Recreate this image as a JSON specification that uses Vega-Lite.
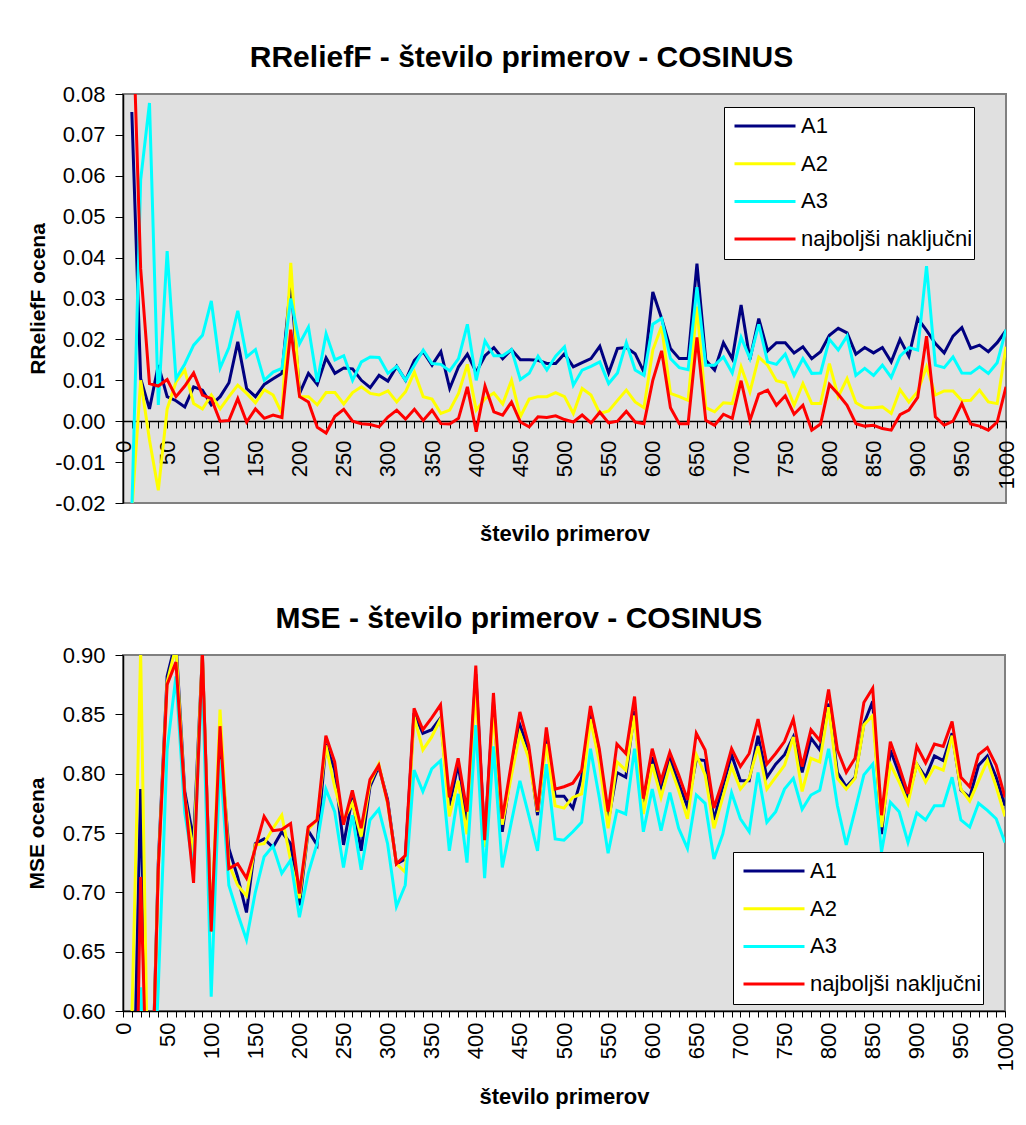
{
"$schema": "https://vega.github.io/schema/vega-lite/v6.json",
"background": "white",
"padding": {"left": 25, "top": 42, "right": 15, "bottom": 5},
"columns": 1,
"align": "none",
"spacing": 57,
"resolve": {"scale": {"color": "independent"}, "legend": {"color": "independent"}},
"config": {
  "font": "Liberation Sans",
  "view": {"fill": "#e0e0e0", "stroke": "#808080", "strokeWidth": 2},
  "axis": {"labelFont": "Liberation Sans", "labelFontSize": 22, "labelColor": "black", "titleFont": "Liberation Sans", "titleFontSize": 21, "titleFontWeight": "bold", "titleColor": "black", "domainColor": "black", "domainWidth": 1.5, "tickColor": "black", "grid": false, "labelOverlap": false, "labelFlush": false},
  "axisX": {"titleFontSize": 22},
  "title": {"fontSize": 30, "font": "Liberation Sans", "fontWeight": "bold", "color": "black"},
  "legend": {"title": null, "orient": "none", "symbolType": "stroke", "symbolSize": 3721, "symbolStrokeWidth": 3, "clipHeight": 36, "rowPadding": 1.7, "padding": 1, "symbolOffset": 8, "labelOffset": 4, "labelLimit": 400, "labelFont": "Liberation Sans", "labelFontSize": 22, "labelColor": "black", "fillColor": "white", "strokeColor": "black"}
},
"datasets": {
"top": [
{"x":10,"A1":0.0756,"A2":-0.022,"A3":-0.022,"N":0.107},
{"x":20,"A1":0.0104,"A2":0.010,"A3":0.059,"N":0.0373},
{"x":30,"A1":0.003,"A2":-0.0046,"A3":0.0778,"N":0.0092},
{"x":40,"A1":0.0137,"A2":-0.0169,"A3":0.004,"N":0.0086},
{"x":50,"A1":0.006,"A2":0.003,"A3":0.0416,"N":0.0102},
{"x":60,"A1":0.005,"A2":0.0096,"A3":0.0104,"N":0.006},
{"x":70,"A1":0.0035,"A2":0.0125,"A3":0.014,"N":0.0086},
{"x":80,"A1":0.0084,"A2":0.0043,"A3":0.0186,"N":0.0118},
{"x":90,"A1":0.0076,"A2":0.003,"A3":0.021,"N":0.0064},
{"x":100,"A1":0.004,"A2":0.0064,"A3":0.0294,"N":0.0055},
{"x":110,"A1":0.006,"A2":0.003,"A3":0.013,"N":0.0},
{"x":120,"A1":0.0094,"A2":0.006,"A3":0.018,"N":0.0002},
{"x":130,"A1":0.0194,"A2":0.0088,"A3":0.027,"N":0.0055},
{"x":140,"A1":0.008,"A2":0.0068,"A3":0.0157,"N":-0.0002},
{"x":150,"A1":0.006,"A2":0.0045,"A3":0.0175,"N":0.003},
{"x":160,"A1":0.009,"A2":0.0077,"A3":0.010,"N":0.0007},
{"x":170,"A1":0.0104,"A2":0.0064,"A3":0.012,"N":0.0015},
{"x":180,"A1":0.0117,"A2":0.0019,"A3":0.0129,"N":0.0009},
{"x":190,"A1":0.034,"A2":0.0387,"A3":0.030,"N":0.0224},
{"x":200,"A1":0.0068,"A2":0.006,"A3":0.019,"N":0.006},
{"x":210,"A1":0.0117,"A2":0.006,"A3":0.023,"N":0.0047},
{"x":220,"A1":0.009,"A2":0.004,"A3":0.0096,"N":-0.0015},
{"x":230,"A1":0.0155,"A2":0.007,"A3":0.0214,"N":-0.0029},
{"x":240,"A1":0.0117,"A2":0.007,"A3":0.015,"N":0.0012},
{"x":250,"A1":0.013,"A2":0.0042,"A3":0.016,"N":0.0029},
{"x":260,"A1":0.0128,"A2":0.007,"A3":0.010,"N":0.0},
{"x":270,"A1":0.010,"A2":0.0084,"A3":0.0145,"N":-0.0006},
{"x":280,"A1":0.0082,"A2":0.0068,"A3":0.0157,"N":-0.0008},
{"x":290,"A1":0.0112,"A2":0.0064,"A3":0.0156,"N":-0.0014},
{"x":300,"A1":0.0098,"A2":0.0074,"A3":0.0117,"N":0.001},
{"x":310,"A1":0.0134,"A2":0.0047,"A3":0.0134,"N":0.0027},
{"x":320,"A1":0.010,"A2":0.0072,"A3":0.010,"N":0.0005},
{"x":330,"A1":0.0149,"A2":0.012,"A3":0.0137,"N":0.0029},
{"x":340,"A1":0.017,"A2":0.006,"A3":0.0174,"N":0.0002},
{"x":350,"A1":0.0137,"A2":0.0054,"A3":0.0141,"N":0.0027},
{"x":360,"A1":0.017,"A2":0.0019,"A3":0.0139,"N":-0.0006},
{"x":370,"A1":0.008,"A2":0.0027,"A3":0.0123,"N":-0.0007},
{"x":380,"A1":0.0133,"A2":0.0068,"A3":0.0153,"N":0.0007},
{"x":390,"A1":0.0164,"A2":0.0139,"A3":0.0237,"N":0.0084},
{"x":400,"A1":0.012,"A2":0.0027,"A3":0.010,"N":-0.0026},
{"x":410,"A1":0.016,"A2":0.0055,"A3":0.0196,"N":0.0086},
{"x":420,"A1":0.018,"A2":0.0069,"A3":0.016,"N":0.0023},
{"x":430,"A1":0.0153,"A2":0.0042,"A3":0.016,"N":0.0015},
{"x":440,"A1":0.0175,"A2":0.010,"A3":0.0175,"N":0.0047},
{"x":450,"A1":0.015,"A2":0.0011,"A3":0.0102,"N":-0.0002},
{"x":460,"A1":0.015,"A2":0.0054,"A3":0.0117,"N":-0.0014},
{"x":470,"A1":0.0149,"A2":0.006,"A3":0.0159,"N":0.0011},
{"x":480,"A1":0.0141,"A2":0.006,"A3":0.0125,"N":0.0009},
{"x":490,"A1":0.0141,"A2":0.007,"A3":0.0159,"N":0.0013},
{"x":500,"A1":0.0165,"A2":0.006,"A3":0.0182,"N":0.0004},
{"x":510,"A1":0.0133,"A2":0.0019,"A3":0.0088,"N":-0.0002},
{"x":520,"A1":0.0143,"A2":0.008,"A3":0.0125,"N":0.0015},
{"x":530,"A1":0.0153,"A2":0.0064,"A3":0.0134,"N":-0.0004},
{"x":540,"A1":0.0183,"A2":0.0019,"A3":0.0145,"N":0.0022},
{"x":550,"A1":0.0118,"A2":0.0025,"A3":0.0092,"N":-0.0004},
{"x":560,"A1":0.0178,"A2":0.0051,"A3":0.0118,"N":0.0},
{"x":570,"A1":0.018,"A2":0.0076,"A3":0.0192,"N":0.0024},
{"x":580,"A1":0.0165,"A2":0.0047,"A3":0.0125,"N":-0.0002},
{"x":590,"A1":0.012,"A2":0.0033,"A3":0.0112,"N":-0.0006},
{"x":600,"A1":0.0316,"A2":0.0174,"A3":0.0237,"N":0.010},
{"x":610,"A1":0.0251,"A2":0.0232,"A3":0.0251,"N":0.0172},
{"x":620,"A1":0.0178,"A2":0.0068,"A3":0.0153,"N":0.0033},
{"x":630,"A1":0.0153,"A2":0.006,"A3":0.0131,"N":-0.0006},
{"x":640,"A1":0.0153,"A2":0.0051,"A3":0.0126,"N":-0.0006},
{"x":650,"A1":0.0385,"A2":0.028,"A3":0.0328,"N":0.0205},
{"x":660,"A1":0.0149,"A2":0.0033,"A3":0.0137,"N":0.0002},
{"x":670,"A1":0.0125,"A2":0.0023,"A3":0.0137,"N":-0.001},
{"x":680,"A1":0.0192,"A2":0.0045,"A3":0.0157,"N":0.0017},
{"x":690,"A1":0.0153,"A2":0.0043,"A3":0.0118,"N":0.0007},
{"x":700,"A1":0.0284,"A2":0.0133,"A3":0.0205,"N":0.0099},
{"x":710,"A1":0.0151,"A2":0.0072,"A3":0.0153,"N":0.0002},
{"x":720,"A1":0.0251,"A2":0.0157,"A3":0.0237,"N":0.0066},
{"x":730,"A1":0.0172,"A2":0.0137,"A3":0.0145,"N":0.0076},
{"x":740,"A1":0.0192,"A2":0.0099,"A3":0.0139,"N":0.0039},
{"x":750,"A1":0.0192,"A2":0.0094,"A3":0.0164,"N":0.0062},
{"x":760,"A1":0.0167,"A2":0.0039,"A3":0.0112,"N":0.0017},
{"x":770,"A1":0.0182,"A2":0.0092,"A3":0.0153,"N":0.0039},
{"x":780,"A1":0.0153,"A2":0.0043,"A3":0.0117,"N":-0.0022},
{"x":790,"A1":0.017,"A2":0.0043,"A3":0.0118,"N":-0.0007},
{"x":800,"A1":0.021,"A2":0.0141,"A3":0.020,"N":0.009},
{"x":810,"A1":0.0227,"A2":0.006,"A3":0.0174,"N":0.0066},
{"x":820,"A1":0.0216,"A2":0.0104,"A3":0.0208,"N":0.0039},
{"x":830,"A1":0.0164,"A2":0.0045,"A3":0.0112,"N":-0.0006},
{"x":840,"A1":0.018,"A2":0.0033,"A3":0.0129,"N":-0.0012},
{"x":850,"A1":0.0167,"A2":0.0033,"A3":0.0112,"N":-0.001},
{"x":860,"A1":0.018,"A2":0.0035,"A3":0.0137,"N":-0.0018},
{"x":870,"A1":0.0145,"A2":0.0019,"A3":0.0107,"N":-0.0022},
{"x":880,"A1":0.020,"A2":0.0077,"A3":0.0159,"N":0.0016},
{"x":890,"A1":0.0159,"A2":0.0047,"A3":0.018,"N":0.0027},
{"x":900,"A1":0.0251,"A2":0.0072,"A3":0.0174,"N":0.0058},
{"x":910,"A1":0.0222,"A2":0.0133,"A3":0.0379,"N":0.0208},
{"x":920,"A1":0.019,"A2":0.0064,"A3":0.0137,"N":0.0011},
{"x":930,"A1":0.0167,"A2":0.0074,"A3":0.0131,"N":-0.001},
{"x":940,"A1":0.0208,"A2":0.0074,"A3":0.0157,"N":0.0},
{"x":950,"A1":0.0229,"A2":0.005,"A3":0.0118,"N":0.0043},
{"x":960,"A1":0.0178,"A2":0.0051,"A3":0.0117,"N":-0.0007},
{"x":970,"A1":0.0186,"A2":0.0076,"A3":0.0133,"N":-0.0012},
{"x":980,"A1":0.017,"A2":0.0047,"A3":0.0117,"N":-0.0022},
{"x":990,"A1":0.0192,"A2":0.0043,"A3":0.0143,"N":-0.0002},
{"x":1000,"A1":0.0222,"A2":0.0182,"A3":0.0224,"N":0.0084}
],
"bot": [
{"x":10,"A1":0.45,"A2":0.59,"A3":0.45,"N":0.30},
{"x":20,"A1":0.787,"A2":0.903,"A3":0.62,"N":0.713},
{"x":30,"A1":0.45,"A2":0.45,"A3":0.45,"N":0.45},
{"x":40,"A1":0.725,"A2":0.72,"A3":0.62,"N":0.719},
{"x":50,"A1":0.882,"A2":0.877,"A3":0.820,"N":0.875},
{"x":60,"A1":0.912,"A2":0.907,"A3":0.882,"N":0.894},
{"x":70,"A1":0.785,"A2":0.78,"A3":0.767,"N":0.782},
{"x":80,"A1":0.744,"A2":0.733,"A3":0.72,"N":0.708},
{"x":90,"A1":0.90,"A2":0.90,"A3":0.885,"N":0.903},
{"x":100,"A1":0.667,"A2":0.667,"A3":0.612,"N":0.667},
{"x":110,"A1":0.828,"A2":0.854,"A3":0.812,"N":0.840},
{"x":120,"A1":0.737,"A2":0.724,"A3":0.706,"N":0.720},
{"x":130,"A1":0.713,"A2":0.706,"A3":0.682,"N":0.724},
{"x":140,"A1":0.683,"A2":0.697,"A3":0.660,"N":0.712},
{"x":150,"A1":0.741,"A2":0.740,"A3":0.700,"N":0.737},
{"x":160,"A1":0.745,"A2":0.741,"A3":0.730,"N":0.764},
{"x":170,"A1":0.738,"A2":0.754,"A3":0.739,"N":0.752},
{"x":180,"A1":0.751,"A2":0.765,"A3":0.716,"N":0.753},
{"x":190,"A1":0.741,"A2":0.727,"A3":0.727,"N":0.758},
{"x":200,"A1":0.689,"A2":0.695,"A3":0.679,"N":0.699},
{"x":210,"A1":0.752,"A2":0.753,"A3":0.716,"N":0.755},
{"x":220,"A1":0.740,"A2":0.761,"A3":0.741,"N":0.761},
{"x":230,"A1":0.825,"A2":0.824,"A3":0.787,"N":0.832},
{"x":240,"A1":0.803,"A2":0.789,"A3":0.768,"N":0.810},
{"x":250,"A1":0.740,"A2":0.761,"A3":0.721,"N":0.757},
{"x":260,"A1":0.780,"A2":0.775,"A3":0.765,"N":0.786},
{"x":270,"A1":0.735,"A2":0.747,"A3":0.719,"N":0.754},
{"x":280,"A1":0.789,"A2":0.792,"A3":0.761,"N":0.795},
{"x":290,"A1":0.806,"A2":0.808,"A3":0.770,"N":0.807},
{"x":300,"A1":0.778,"A2":0.775,"A3":0.741,"N":0.776},
{"x":310,"A1":0.724,"A2":0.724,"A3":0.688,"N":0.724},
{"x":320,"A1":0.728,"A2":0.717,"A3":0.706,"N":0.731},
{"x":330,"A1":0.851,"A2":0.848,"A3":0.803,"N":0.855},
{"x":340,"A1":0.834,"A2":0.820,"A3":0.785,"N":0.837},
{"x":350,"A1":0.837,"A2":0.831,"A3":0.804,"N":0.847},
{"x":360,"A1":0.847,"A2":0.846,"A3":0.811,"N":0.858},
{"x":370,"A1":0.773,"A2":0.764,"A3":0.735,"N":0.780},
{"x":380,"A1":0.808,"A2":0.794,"A3":0.783,"N":0.813},
{"x":390,"A1":0.758,"A2":0.749,"A3":0.725,"N":0.768},
{"x":400,"A1":0.884,"A2":0.872,"A3":0.841,"N":0.891},
{"x":410,"A1":0.744,"A2":0.738,"A3":0.712,"N":0.744},
{"x":420,"A1":0.860,"A2":0.853,"A3":0.823,"N":0.868},
{"x":430,"A1":0.751,"A2":0.757,"A3":0.721,"N":0.762},
{"x":440,"A1":0.803,"A2":0.797,"A3":0.758,"N":0.807},
{"x":450,"A1":0.841,"A2":0.834,"A3":0.794,"N":0.852},
{"x":460,"A1":0.820,"A2":0.813,"A3":0.765,"N":0.824},
{"x":470,"A1":0.765,"A2":0.768,"A3":0.735,"N":0.769},
{"x":480,"A1":0.832,"A2":0.825,"A3":0.808,"N":0.839},
{"x":490,"A1":0.781,"A2":0.773,"A3":0.745,"N":0.787},
{"x":500,"A1":0.781,"A2":0.771,"A3":0.744,"N":0.789},
{"x":510,"A1":0.771,"A2":0.780,"A3":0.751,"N":0.792},
{"x":520,"A1":0.797,"A2":0.783,"A3":0.759,"N":0.803},
{"x":530,"A1":0.852,"A2":0.846,"A3":0.821,"N":0.857},
{"x":540,"A1":0.817,"A2":0.810,"A3":0.780,"N":0.821},
{"x":550,"A1":0.759,"A2":0.754,"A3":0.733,"N":0.768},
{"x":560,"A1":0.801,"A2":0.810,"A3":0.769,"N":0.825},
{"x":570,"A1":0.797,"A2":0.803,"A3":0.766,"N":0.817},
{"x":580,"A1":0.853,"A2":0.849,"A3":0.821,"N":0.865},
{"x":590,"A1":0.775,"A2":0.766,"A3":0.751,"N":0.779},
{"x":600,"A1":0.814,"A2":0.808,"A3":0.787,"N":0.821},
{"x":610,"A1":0.789,"A2":0.780,"A3":0.752,"N":0.794},
{"x":620,"A1":0.813,"A2":0.807,"A3":0.784,"N":0.818},
{"x":630,"A1":0.792,"A2":0.786,"A3":0.754,"N":0.799},
{"x":640,"A1":0.772,"A2":0.762,"A3":0.737,"N":0.778},
{"x":650,"A1":0.812,"A2":0.816,"A3":0.782,"N":0.834},
{"x":660,"A1":0.811,"A2":0.799,"A3":0.775,"N":0.820},
{"x":670,"A1":0.761,"A2":0.754,"A3":0.728,"N":0.771},
{"x":680,"A1":0.789,"A2":0.780,"A3":0.749,"N":0.794},
{"x":690,"A1":0.816,"A2":0.806,"A3":0.784,"N":0.821},
{"x":700,"A1":0.794,"A2":0.787,"A3":0.762,"N":0.806},
{"x":710,"A1":0.794,"A2":0.796,"A3":0.751,"N":0.817},
{"x":720,"A1":0.832,"A2":0.823,"A3":0.801,"N":0.846},
{"x":730,"A1":0.797,"A2":0.787,"A3":0.759,"N":0.808},
{"x":740,"A1":0.808,"A2":0.797,"A3":0.768,"N":0.817},
{"x":750,"A1":0.816,"A2":0.807,"A3":0.787,"N":0.827},
{"x":760,"A1":0.831,"A2":0.831,"A3":0.796,"N":0.846},
{"x":770,"A1":0.801,"A2":0.785,"A3":0.770,"N":0.806},
{"x":780,"A1":0.830,"A2":0.813,"A3":0.782,"N":0.837},
{"x":790,"A1":0.820,"A2":0.810,"A3":0.786,"N":0.828},
{"x":800,"A1":0.859,"A2":0.856,"A3":0.821,"N":0.871},
{"x":810,"A1":0.801,"A2":0.796,"A3":0.773,"N":0.820},
{"x":820,"A1":0.789,"A2":0.787,"A3":0.740,"N":0.801},
{"x":830,"A1":0.797,"A2":0.796,"A3":0.769,"N":0.813},
{"x":840,"A1":0.842,"A2":0.841,"A3":0.799,"N":0.860},
{"x":850,"A1":0.861,"A2":0.849,"A3":0.808,"N":0.872},
{"x":860,"A1":0.749,"A2":0.755,"A3":0.734,"N":0.765},
{"x":870,"A1":0.820,"A2":0.808,"A3":0.776,"N":0.827},
{"x":880,"A1":0.800,"A2":0.793,"A3":0.768,"N":0.806},
{"x":890,"A1":0.779,"A2":0.775,"A3":0.742,"N":0.783},
{"x":900,"A1":0.808,"A2":0.808,"A3":0.767,"N":0.823},
{"x":910,"A1":0.797,"A2":0.793,"A3":0.761,"N":0.809},
{"x":920,"A1":0.815,"A2":0.806,"A3":0.773,"N":0.825},
{"x":930,"A1":0.811,"A2":0.803,"A3":0.773,"N":0.823},
{"x":940,"A1":0.834,"A2":0.832,"A3":0.797,"N":0.844},
{"x":950,"A1":0.786,"A2":0.787,"A3":0.761,"N":0.797},
{"x":960,"A1":0.780,"A2":0.777,"A3":0.755,"N":0.789},
{"x":970,"A1":0.807,"A2":0.794,"A3":0.775,"N":0.816},
{"x":980,"A1":0.815,"A2":0.811,"A3":0.769,"N":0.822},
{"x":990,"A1":0.797,"A2":0.789,"A3":0.762,"N":0.807},
{"x":1000,"A1":0.773,"A2":0.764,"A3":0.742,"N":0.780}
]
},
"concat": [
{
  "title": {"text": "RReliefF - število primerov - COSINUS", "offset": 10, "dx": -43},
  "width": 883, "height": 409,
  "data": {"name": "top"},
  "transform": [{"fold": ["A1", "A2", "A3", "N"], "as": ["s", "v"]}],
  "mark": {"type": "line", "clip": true, "strokeWidth": 3},
  "encoding": {
    "x": {"field": "x", "type": "quantitative", "scale": {"domain": [0, 1000], "nice": false},
      "axis": {"values": [0,10,20,30,40,50,60,70,80,90,100,110,120,130,140,150,160,170,180,190,200,210,220,230,240,250,260,270,280,290,300,310,320,330,340,350,360,370,380,390,400,410,420,430,440,450,460,470,480,490,500,510,520,530,540,550,560,570,580,590,600,610,620,630,640,650,660,670,680,690,700,710,720,730,740,750,760,770,780,790,800,810,820,830,840,850,860,870,880,890,900,910,920,930,940,950,960,970,980,990,1000],
        "format": "d", "labelExpr": "datum.value % 50 == 0 ? datum.label : ''", "labelAngle": 270, "offset": -82, "tickSize": 7, "labelPadding": 12, "title": "število primerov", "titlePadding": 35}},
    "y": {"field": "v", "type": "quantitative", "scale": {"domain": [-0.02, 0.08], "nice": false, "zero": false},
      "axis": {"values": [-0.02,-0.01,0,0.01,0.02,0.03,0.04,0.05,0.06,0.07,0.08], "format": ".2f", "labelExpr": "replace(datum.label, '−', '-')", "tickSize": 8, "labelPadding": 10, "title": "RReliefF ocena", "titlePadding": 6}},
    "color": {"field": "s", "type": "nominal", "scale": {"domain": ["A1", "A2", "A3", "N"], "range": ["#000080", "#FFFF00", "#00FFFF", "#FF0000"]},
      "legend": {"legendX": 601, "legendY": 13, "labelExpr": "datum.label == 'N' ? 'najboljši naključni' : datum.label"}}
  }
},
{
  "title": {"text": "MSE - število primerov - COSINUS", "offset": 10, "dx": -45},
  "width": 882, "height": 356,
  "data": {"name": "bot"},
  "transform": [{"fold": ["A1", "A2", "A3", "N"], "as": ["s", "v"]}],
  "mark": {"type": "line", "clip": true, "strokeWidth": 3},
  "encoding": {
    "x": {"field": "x", "type": "quantitative", "scale": {"domain": [0, 1000], "nice": false},
      "axis": {"values": [0,10,20,30,40,50,60,70,80,90,100,110,120,130,140,150,160,170,180,190,200,210,220,230,240,250,260,270,280,290,300,310,320,330,340,350,360,370,380,390,400,410,420,430,440,450,460,470,480,490,500,510,520,530,540,550,560,570,580,590,600,610,620,630,640,650,660,670,680,690,700,710,720,730,740,750,760,770,780,790,800,810,820,830,840,850,860,870,880,890,900,910,920,930,940,950,960,970,980,990,1000],
        "format": "d", "labelExpr": "datum.value % 50 == 0 ? datum.label : ''", "labelAngle": 270, "tickSize": 6, "labelPadding": 5, "title": "število primerov", "titlePadding": 16}},
    "y": {"field": "v", "type": "quantitative", "scale": {"domain": [0.6, 0.9], "nice": false, "zero": false},
      "axis": {"values": [0.6,0.65,0.7,0.75,0.8,0.85,0.9], "format": ".2f", "tickSize": 8, "labelPadding": 10, "title": "MSE ocena", "titlePadding": 15}},
    "color": {"field": "s", "type": "nominal", "scale": {"domain": ["A1", "A2", "A3", "N"], "range": ["#000080", "#FFFF00", "#00FFFF", "#FF0000"]},
      "legend": {"legendX": 610, "legendY": 197, "labelExpr": "datum.label == 'N' ? 'najboljši naključni' : datum.label"}}
  }
}
]
}
